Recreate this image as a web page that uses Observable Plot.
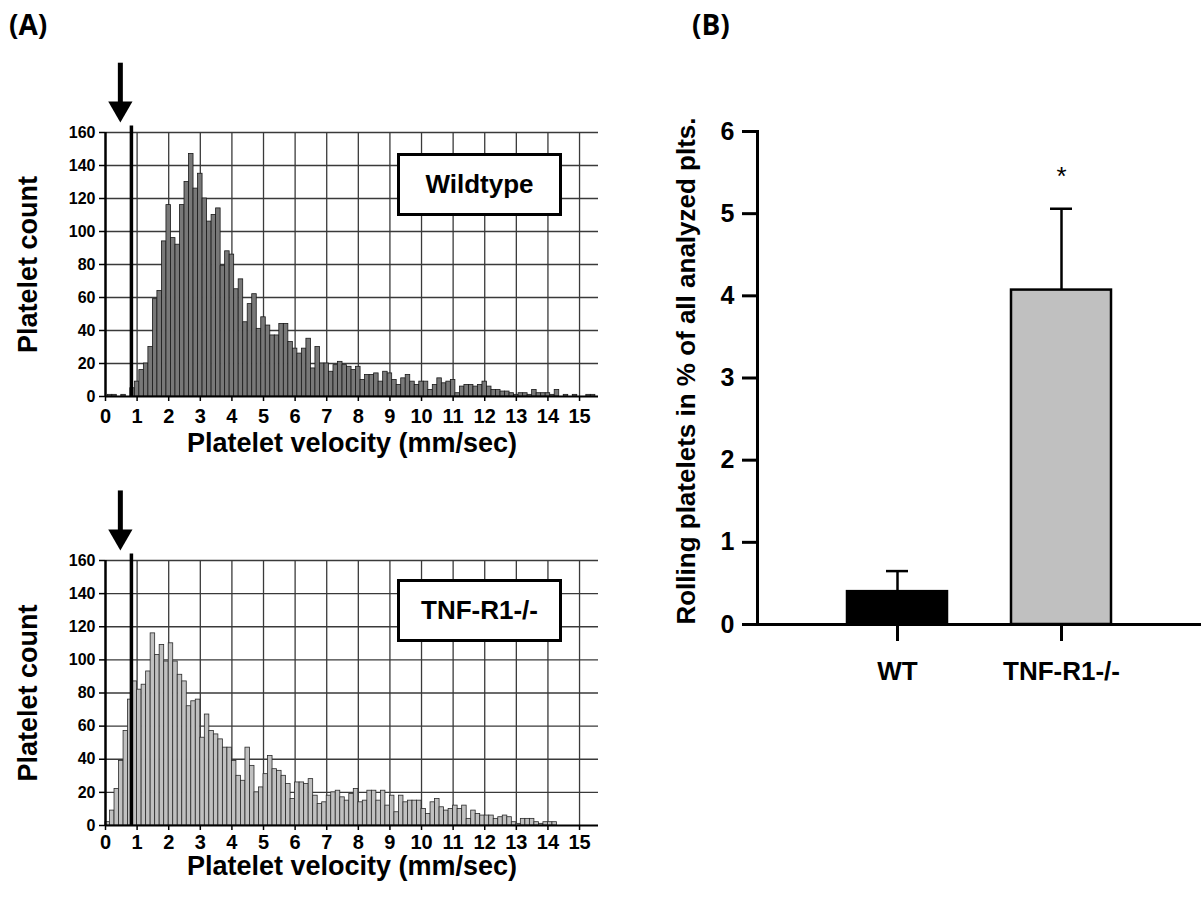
<!DOCTYPE html>
<html>
<head>
<meta charset="utf-8">
<script src="https://cdn.jsdelivr.net/npm/d3@7"></script>
<script src="https://cdn.jsdelivr.net/npm/@observablehq/plot@0.6"></script>
<style>
  body { margin: 0; background: #fff; }
  #root { position: relative; width: 1201px; height: 907px; overflow: hidden; background: #fff;
          font-family: "Liberation Sans", Arial, sans-serif; }
  .panel { position: absolute; font-family: "Open Sans", sans-serif; font-weight: 700; font-size: 28px; line-height: 1; }
  .chart { position: absolute; }
  .legend { position: absolute; box-sizing: border-box; border: 3px solid #000; background: #fff;
            display: flex; align-items: center; justify-content: center;
            font-family: "Liberation Sans", Arial, sans-serif; font-weight: 700; font-size: 26px; }
</style>
</head>
<body>
<div id="root">
  <div class="panel" style="left:9px; top:10px;">(A)</div>
  <div class="panel" style="left:692px; top:10px;">(B)</div>
  <div class="chart" id="histWT" style="left:0; top:0;"></div>
  <div class="chart" id="histKO" style="left:0; top:428px;"></div>
  <div class="chart" id="barB" style="left:640px; top:0;"></div>
  <div class="legend" id="legWT" style="left:397px; top:153px; width:165px; height:63px;"></div>
  <div class="legend" id="legKO" style="left:397px; top:579px; width:165px; height:63px;"></div>
</div>
<script>
// ---------------- DATA ----------------
// Panel A: platelet velocity histograms (bin width 1/7 mm/sec)
const binWidth = 1 / 7;
const xTicks = [0, 1, 2, 3, 4, 5, 6, 7, 8, 9, 10, 11, 12, 13, 14, 15];
const yTicksA = [0, 20, 40, 60, 80, 100, 120, 140, 160];
const xMaxA = 15.6;
const yMaxA = 160;
const thresholdVelocity = 0.82;   // vertical threshold line
const thresholdTop = 164;
const arrowVelocity = 0.47;        // arrow marker position
const arrowFrom = 202;
const arrowShaftEnd = 175;
const arrowTip = 166;

// Wildtype: bins centred on multiples of 1/7, starting at 0
const wtFirstCenter = 0;
const wtCounts = [
  0, 1, 1, 0, 1, 0, 5, 9, 16, 20, 30, 59, 64, 94, 116, 96, 92, 116, 130, 147,
  126, 135, 120, 106, 110, 114, 79, 88, 86, 65, 71, 45, 56, 62, 41, 48, 43, 37, 37, 44,
  44, 33, 29, 26, 29, 35, 17, 30, 20, 20, 15, 19, 21, 19, 18, 16, 18, 10, 13, 13,
  14, 9, 15, 14, 10, 7, 11, 13, 9, 7, 9, 9, 4, 7, 11, 8, 9, 10, 2, 6,
  7, 7, 6, 7, 9, 6, 4, 4, 3, 3, 2, 1, 2, 2, 1, 4, 2, 2, 2, 1,
  4, 0, 1, 0, 1, 0, 0, 1, 1
];
// TNF-R1-/-: bins starting at multiples of 1/7, starting at 0
const koFirstEdge = 0;
const koCounts = [
  2, 9, 22, 39, 57, 76, 87, 82, 85, 93, 116, 103, 109, 99, 110, 99, 91, 87, 72, 75,
  76, 53, 67, 57, 55, 52, 47, 47, 39, 30, 27, 47, 36, 20, 23, 31, 42, 34, 33, 30,
  25, 16, 26, 26, 25, 28, 18, 13, 14, 18, 20, 21, 17, 15, 19, 22, 14, 15, 21, 21,
  15, 21, 12, 18, 8, 18, 14, 15, 15, 15, 10, 7, 14, 16, 11, 9, 10, 12, 10, 12,
  4, 9, 7, 6, 6, 6, 4, 5, 6, 5, 2, 1, 4, 4, 4, 2, 1, 2, 2, 2
];
const xTitleA = "Platelet velocity (mm/sec)";
const yTitleA = "Platelet count";
const legendWT = "Wildtype";
const legendKO = "TNF-R1-/-";

// Panel B: rolling platelets
const bGroups = ["WT", "TNF-R1-/-"];
const bMeans = [0.40, 4.07];
const bErrors = [0.25, 0.99];
const bSignificance = ["", "*"];
const yTicksB = [0, 1, 2, 3, 4, 5, 6];
const yTitleB = "Rolling platelets in % of all analyzed plts.";

// ---------------- STYLES ----------------
const FONT = "'Liberation Sans', Arial, sans-serif";
const NARROW = "'Liberation Sans Narrow', 'Arial Narrow', 'Liberation Sans', Arial, sans-serif";
const styleWT = { fill: "#787878", stroke: "#1a1a1a" };
const styleKO = { fill: "#c0c0c0", stroke: "#2a2a2a" };
const bFills = { "WT": "#000000", "TNF-R1-/-": "#c0c0c0" };

// ---------------- PANEL A ----------------
function histogram(bins, st, opts) {
  const gridX = xTicks.filter(d => d > 0);
  const gridY = yTicksA.filter(d => d > 0);
  return Plot.plot({
    width: 620,
    height: opts.height,
    marginLeft: 105,
    marginRight: 22,
    marginTop: opts.marginTop,
    marginBottom: opts.marginBottom,
    x: { domain: [0, xMaxA] },
    y: { domain: [0, yMaxA] },
    style: { fontFamily: FONT, color: "#000", background: "transparent", overflow: "visible" },
    marks: [
      Plot.ruleX(gridX, { y1: 0, y2: yMaxA, stroke: "#3a3a3a", strokeWidth: 1.3 }),
      Plot.ruleY(gridY, { x1: 0, x2: xMaxA, stroke: "#3a3a3a", strokeWidth: 1.3 }),
      Plot.rectY(bins, { x1: "x1", x2: "x2", y: "count", fill: st.fill, stroke: st.stroke, strokeWidth: 0.8 }),
      Plot.ruleX([thresholdVelocity], { y1: 0, y2: thresholdTop, stroke: "#000", strokeWidth: 3.5 }),
      Plot.ruleX([0], { y1: 0, y2: yMaxA, stroke: "#000", strokeWidth: 2.5 }),
      Plot.ruleY([0], { x1: 0, x2: xMaxA, stroke: "#000", strokeWidth: 2 }),
      Plot.axisX({ ticks: xTicks, tickSize: 5, tickPadding: opts.xTickPad, strokeWidth: 1.5,
                   fontFamily: NARROW, fontSize: 20, fontWeight: "bold", label: null, tickFormat: d => String(d) }),
      Plot.axisY({ ticks: yTicksA, tickSize: 6, tickPadding: 4, strokeWidth: 1.5,
                   fontSize: 16, fontWeight: "bold", label: null, tickFormat: d => String(d) }),
      Plot.text([yTitleA], { frameAnchor: "left", dx: -77, rotate: -90, textAnchor: "middle", lineAnchor: "middle",
                             fontSize: 27, fontWeight: "bold" }),
      Plot.text([xTitleA], { frameAnchor: "bottom", dy: opts.xTitleDy, textAnchor: "middle", lineAnchor: "middle",
                             fontSize: 27, fontWeight: "bold" }),
      Plot.ruleX([arrowVelocity], { y1: arrowFrom, y2: arrowShaftEnd, stroke: "#000", strokeWidth: 5 }),
      Plot.dot([arrowVelocity], { x: d => d, y: arrowTip, symbol: "triangle", r: 9, fill: "#000",
                                  stroke: "none", rotate: 180, dy: -14 })
    ]
  });
}

const wtBins = wtCounts.map((c, i) => ({
  x1: wtFirstCenter + (i - 0.5) * binWidth,
  x2: wtFirstCenter + (i + 0.5) * binWidth,
  count: c
})).filter(d => d.count > 0);
const koBins = koCounts.map((c, i) => ({
  x1: koFirstEdge + i * binWidth,
  x2: koFirstEdge + (i + 1) * binWidth,
  count: c
})).filter(d => d.count > 0);

document.getElementById("histWT").append(
  histogram(wtBins, styleWT, { height: 460, marginTop: 132, marginBottom: 64, xTickPad: 7, xTitleDy: 47 })
);
document.getElementById("histKO").append(
  histogram(koBins, styleKO, { height: 440, marginTop: 132, marginBottom: 43, xTickPad: 4, xTitleDy: 41 })
);
document.getElementById("legWT").textContent = legendWT;
document.getElementById("legKO").textContent = legendKO;

// ---------------- PANEL B ----------------
const bData = bGroups.map((g, i) => ({ group: g, mean: bMeans[i], err: bErrors[i], sig: bSignificance[i] }));

const barChart = Plot.plot({
  width: 561,
  height: 720,
  marginLeft: 117,
  marginRight: 0,
  marginTop: 131,
  marginBottom: 96,
  x: { domain: bGroups, paddingInner: 0.39, paddingOuter: 0.545 },
  y: { domain: [0, 6] },
  style: { fontFamily: FONT, color: "#000", background: "transparent", overflow: "visible" },
  marks: [
    Plot.ruleX(bData, { x: "group", y1: "mean", y2: d => d.mean + d.err, stroke: "#000", strokeWidth: 2.5 }),
    Plot.tickY(bData, { x: "group", y: d => d.mean + d.err, stroke: "#000", strokeWidth: 2.5, insetLeft: 39, insetRight: 39 }),
    Plot.barY(bData, { x: "group", y: "mean", fill: d => bFills[d.group], stroke: "#000", strokeWidth: 2.5 }),
    Plot.text(bData, { x: "group", y: d => d.mean + d.err, text: "sig", dy: -32, fontSize: 26, fontWeight: "normal" }),
    Plot.ruleY([0], { stroke: "#000", strokeWidth: 3 }),
    Plot.frame({ anchor: "left", stroke: "#000", strokeWidth: 3 }),
    Plot.axisY({ ticks: yTicksB, tickSize: 15, tickPadding: 8, strokeWidth: 3,
                 fontSize: 25, fontWeight: "bold", label: null, tickFormat: d => String(d) }),
    Plot.axisX({ tickSize: 17, tickPadding: 20, strokeWidth: 3,
                 fontSize: 26, fontWeight: "bold", label: null }),
    Plot.text([yTitleB], { frameAnchor: "left", dx: -71, dy: -7, rotate: -90, textAnchor: "middle", lineAnchor: "middle",
                           fontSize: 26, fontWeight: "bold" })
  ]
});
document.getElementById("barB").append(barChart);
</script>
</body>
</html>
